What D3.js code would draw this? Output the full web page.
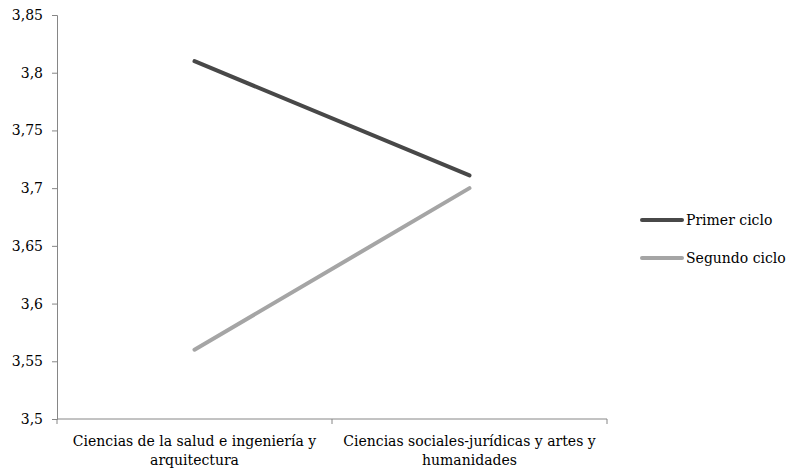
<!DOCTYPE html>
<html>
<head>
<meta charset="utf-8">
<script src="https://cdn.jsdelivr.net/npm/d3@7"></script>
<style>
  body { margin: 0; background: #fff; }
</style>
</head>
<body>
<svg id="chart" width="790" height="470"></svg>
<script>
// Data
const categories = [
  ["Ciencias de la salud e ingeniería y", "arquitectura"],
  ["Ciencias sociales-jurídicas y artes y", "humanidades"]
];
const seriesNames = ["Primer ciclo", "Segundo ciclo"];
const primerCiclo = [3.81, 3.711];
const segundoCiclo = [3.56, 3.70];
const yTicks = [3.5, 3.55, 3.6, 3.65, 3.7, 3.75, 3.8, 3.85];
const colors = ["#484848", "#a5a5a5"];
const FONT = "DejaVu Serif";
const FS = 14;

const svg = d3.select("#chart");
const margin = {left: 57, right: 183, top: 15, bottom: 51};
const width = 790 - margin.left - margin.right;
const height = 470 - margin.top - margin.bottom;
const g = svg.append("g").attr("transform", `translate(${margin.left},${margin.top})`);

const x = d3.scaleBand().domain(d3.range(categories.length)).range([0, width]);
const y = d3.scaleLinear().domain([3.5, 3.85]).range([height, 0]);
const fmt = d => String(+d.toFixed(2)).replace(".", ",");

// Y axis
const yAxis = g.append("g")
  .call(d3.axisLeft(y).tickValues(yTicks).tickFormat(fmt).tickSize(5).tickPadding(9));
yAxis.attr("font-family", FONT).attr("font-size", FS);
yAxis.selectAll("path, line").attr("stroke", "#868686");
yAxis.selectAll("text").attr("fill", "#000");

// X axis
const xAxis = g.append("g").attr("transform", `translate(0,${height})`);
xAxis.append("line").attr("x1", 0).attr("x2", width).attr("stroke", "#868686");
[0, width / 2, width].forEach(t => {
  xAxis.append("line").attr("x1", t).attr("x2", t).attr("y1", 0).attr("y2", 5).attr("stroke", "#868686");
});
categories.forEach((lines, i) => {
  const cx = x(i) + x.bandwidth() / 2;
  const t = xAxis.append("text")
    .attr("font-family", FONT)
    .attr("y", 27)
    .attr("text-anchor", "middle")
    .attr("font-size", FS);
  lines.forEach((l, j) => t.append("tspan").attr("x", cx).attr("dy", j ? 19 : 0).text(l));
});

// Lines
const line = d3.line().x((d, i) => x(i) + x.bandwidth() / 2).y(d => y(d));
[primerCiclo, segundoCiclo].forEach((s, k) => {
  g.append("path").datum(s)
    .attr("d", line)
    .attr("fill", "none")
    .attr("stroke", colors[k])
    .attr("stroke-width", 4)
    .attr("stroke-linecap", "round");
});

// Legend
const legend = svg.append("g").attr("transform", "translate(642,220)");
seriesNames.forEach((name, k) => {
  const row = legend.append("g").attr("transform", `translate(0,${k * 38})`);
  row.append("line").attr("x1", 0).attr("x2", 40)
    .attr("stroke", colors[k]).attr("stroke-width", 4).attr("stroke-linecap", "round");
  row.append("text").attr("x", 44).attr("y", 5).attr("font-size", FS)
    .attr("font-family", FONT).text(name);
});
</script>
</body>
</html>
